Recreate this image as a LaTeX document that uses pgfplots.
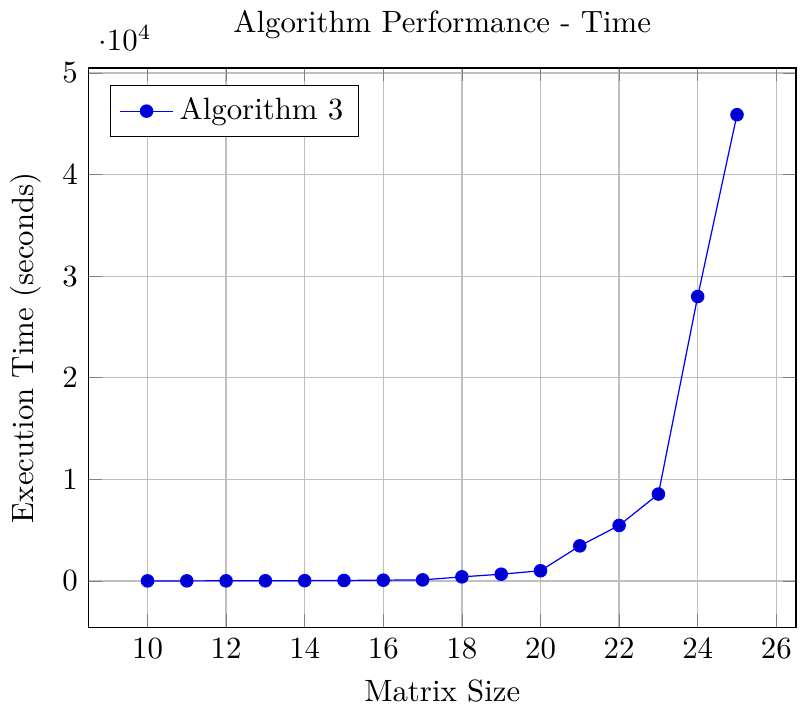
\documentclass[border=0pt]{standalone}
\usepackage{pgfplots}
\pgfplotsset{compat=1.18}
\begin{document}
\begin{tikzpicture}
\begin{axis}[
  scale only axis,
  width=229.5pt, height=181.5pt,
  title={Algorithm Performance - Time},
  xlabel={Matrix Size},
  ylabel={Execution Time (seconds)},
  grid=major,
  xtick={10,12,...,26},
  legend pos=north west,
]
\addplot coordinates {
(10,1) (11,3) (12,6) (13,12) (14,25) (15,45) (16,70) (17,100)
(18,400) (19,660) (20,1000) (21,3450) (22,5460) (23,8550) (24,28000) (25,45900)
};
\addlegendentry{Algorithm 3}
\end{axis}
\end{tikzpicture}
\end{document}
